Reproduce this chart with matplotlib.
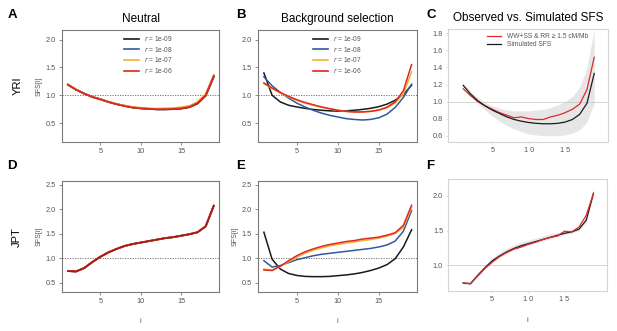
import numpy as np
import matplotlib.pyplot as plt

plt.rcParams["font.family"] = ["Liberation Sans", "DejaVu Sans"]

i = np.arange(1, 20)

# -----------------------------
# Data
# -----------------------------
r_labels = ["1e-09", "1e-08", "1e-07", "1e-06"]
r_colors = ["#1a1a1a", "#2f5a9e", "#f5b335", "#e0281e"]

# A: YRI neutral
yri_neu_1e9 = [1.19, 1.10, 1.03, 0.97, 0.93, 0.88, 0.84, 0.81, 0.78, 0.765, 0.755, 0.745, 0.745, 0.75, 0.76, 0.785, 0.85, 0.99, 1.33]
yri_neu_1e8 = [1.19, 1.10, 1.03, 0.97, 0.93, 0.88, 0.84, 0.81, 0.78, 0.765, 0.755, 0.75, 0.75, 0.755, 0.765, 0.79, 0.86, 1.00, 1.34]
yri_neu_1e7 = [1.19, 1.10, 1.03, 0.97, 0.93, 0.885, 0.845, 0.815, 0.79, 0.775, 0.765, 0.76, 0.765, 0.77, 0.785, 0.81, 0.88, 1.02, 1.36]
yri_neu_1e6 = [1.19, 1.10, 1.03, 0.97, 0.925, 0.88, 0.84, 0.805, 0.78, 0.765, 0.755, 0.75, 0.75, 0.755, 0.765, 0.79, 0.86, 1.00, 1.35]

# B: YRI background selection
yri_bgs_1e9 = [1.40, 1.00, 0.88, 0.82, 0.79, 0.765, 0.745, 0.73, 0.72, 0.715, 0.72, 0.73, 0.745, 0.765, 0.795, 0.84, 0.91, 1.01, 1.18]
yri_bgs_1e8 = [1.33, 1.17, 1.05, 0.95, 0.86, 0.79, 0.73, 0.68, 0.64, 0.61, 0.58, 0.565, 0.555, 0.565, 0.595, 0.66, 0.78, 0.96, 1.20]
yri_bgs_1e7 = [1.21, 1.12, 1.04, 0.97, 0.91, 0.86, 0.82, 0.785, 0.755, 0.73, 0.71, 0.70, 0.70, 0.71, 0.73, 0.77, 0.86, 1.02, 1.42]
yri_bgs_1e6 = [1.22, 1.13, 1.05, 0.98, 0.92, 0.87, 0.83, 0.79, 0.76, 0.73, 0.71, 0.70, 0.70, 0.71, 0.735, 0.785, 0.88, 1.08, 1.55]

# C: YRI observed vs simulated
yri_obs = [1.15, 1.07, 1.00, 0.95, 0.91, 0.87, 0.84, 0.81, 0.82, 0.80, 0.79, 0.79, 0.82, 0.84, 0.87, 0.91, 0.97, 1.14, 1.52]
yri_sim = [1.19, 1.09, 1.01, 0.95, 0.90, 0.86, 0.82, 0.79, 0.77, 0.755, 0.745, 0.74, 0.74, 0.745, 0.76, 0.79, 0.85, 0.98, 1.33]
yri_sim_lo = [1.17, 1.07, 0.98, 0.90, 0.83, 0.77, 0.72, 0.68, 0.65, 0.62, 0.61, 0.60, 0.60, 0.60, 0.61, 0.63, 0.67, 0.76, 0.98]
yri_sim_hi = [1.21, 1.12, 1.05, 0.99, 0.95, 0.92, 0.90, 0.89, 0.89, 0.89, 0.90, 0.91, 0.93, 0.96, 1.00, 1.06, 1.17, 1.40, 1.85]

# D: JPT neutral
jpt_neu = [0.74, 0.73, 0.80, 0.92, 1.03, 1.12, 1.19, 1.25, 1.29, 1.32, 1.35, 1.38, 1.41, 1.43, 1.46, 1.49, 1.53, 1.65, 2.07]

# E: JPT background selection
jpt_bgs_1e9 = [1.53, 0.98, 0.78, 0.69, 0.65, 0.63, 0.625, 0.625, 0.63, 0.645, 0.66, 0.68, 0.71, 0.75, 0.80, 0.87, 0.99, 1.23, 1.58]
jpt_bgs_1e8 = [0.95, 0.82, 0.85, 0.91, 0.97, 1.01, 1.05, 1.08, 1.10, 1.12, 1.14, 1.16, 1.18, 1.20, 1.23, 1.27, 1.35, 1.55, 1.97]
jpt_bgs_1e7 = [0.78, 0.76, 0.83, 0.93, 1.02, 1.10, 1.16, 1.21, 1.25, 1.28, 1.31, 1.33, 1.36, 1.38, 1.41, 1.45, 1.50, 1.63, 2.03]
jpt_bgs_1e6 = [0.76, 0.75, 0.84, 0.95, 1.05, 1.13, 1.19, 1.24, 1.28, 1.31, 1.34, 1.36, 1.39, 1.41, 1.43, 1.47, 1.52, 1.67, 2.08]

# F: JPT observed vs simulated
jpt_obs = [0.74, 0.73, 0.84, 0.95, 1.04, 1.12, 1.18, 1.23, 1.26, 1.30, 1.33, 1.37, 1.40, 1.42, 1.49, 1.48, 1.55, 1.72, 2.04]
jpt_sim = [0.74, 0.73, 0.85, 0.96, 1.06, 1.13, 1.19, 1.24, 1.28, 1.31, 1.34, 1.37, 1.40, 1.43, 1.46, 1.48, 1.52, 1.65, 2.04]
jpt_sim_lo = [0.72, 0.71, 0.83, 0.94, 1.04, 1.11, 1.17, 1.22, 1.26, 1.29, 1.32, 1.35, 1.38, 1.41, 1.44, 1.46, 1.50, 1.62, 2.00]
jpt_sim_hi = [0.76, 0.76, 0.88, 1.00, 1.10, 1.18, 1.24, 1.29, 1.33, 1.36, 1.39, 1.42, 1.45, 1.47, 1.49, 1.51, 1.56, 1.70, 2.12]

# -----------------------------
# Layout
# -----------------------------
fig = plt.figure(figsize=(6.17, 3.31), dpi=100)
axA = fig.add_axes([0.1005, 0.571, 0.2545, 0.338])
axB = fig.add_axes([0.418, 0.571, 0.2577, 0.338])
axC = fig.add_axes([0.726, 0.571, 0.2588, 0.341])
axD = fig.add_axes([0.1005, 0.119, 0.2545, 0.335])
axE = fig.add_axes([0.418, 0.119, 0.2577, 0.335])
axF = fig.add_axes([0.726, 0.121, 0.2575, 0.337])

grey = "#7a7a7a"
txt = "#555555"


def style_r(ax, ylim, yticks):
    for s in ax.spines.values():
        s.set_color(grey)
        s.set_linewidth(0.8)
    ax.set_xlim(0.27, 19.65)
    ax.set_ylim(*ylim)
    ax.set_xticks([5, 10, 15])
    ax.set_yticks(yticks)
    ax.set_yticklabels([f"{v:.1f}" for v in yticks])
    ax.tick_params(colors=grey, labelcolor=txt, labelsize=5.3, length=2.5, width=0.6, pad=1.8)
    ax.axhline(1.0, color="#666666", lw=0.6, ls=(0, (1.5, 1.5)), zorder=1)


def style_gg(ax, ylim, yticks):
    for s in ax.spines.values():
        s.set_color("#d4d4d4")
        s.set_linewidth(0.8)
    ax.set_xlim(-1.1, 20.84)
    ax.set_ylim(*ylim)
    ax.set_xticks([5, 10, 15])
    ax.set_xticklabels(["5", "1 0", "1 5"])
    ax.set_yticks(yticks)
    ax.set_yticklabels([f"{v:.1f}" for v in yticks])
    ax.tick_params(colors="#d4d4d4", labelcolor=txt, labelsize=5.3, length=1.5, width=0.5, pad=2)
    ax.axhline(1.0, color="#cccccc", lw=0.6, zorder=1)


# A
style_r(axA, (0.16, 2.17), [0.5, 1.0, 1.5, 2.0])
for y, c in zip([yri_neu_1e9, yri_neu_1e8, yri_neu_1e7, yri_neu_1e6], r_colors):
    axA.plot(i, y, color=c, lw=1.3)
axA.set_ylabel("SFS[i]", fontsize=5, color=txt, labelpad=2)
leg_handles = [plt.Line2D([], [], color=c, lw=1.2) for c in r_colors]
axA.legend(leg_handles, [f"$r$ = {r}" for r in r_labels], loc="upper center",
           frameon=False, fontsize=4.8, handlelength=2.2, labelspacing=0.25,
           borderpad=0.1, bbox_to_anchor=(0.55, 1.0), labelcolor=txt)
axA.set_title("Neutral", fontsize=8.5, pad=6)

# B
style_r(axB, (0.16, 2.17), [0.5, 1.0, 1.5, 2.0])
for y, c in zip([yri_bgs_1e9, yri_bgs_1e8, yri_bgs_1e7, yri_bgs_1e6], r_colors):
    axB.plot(i, y, color=c, lw=1.1)
axB.legend(leg_handles, [f"$r$ = {r}" for r in r_labels], loc="upper center",
           frameon=False, fontsize=4.8, handlelength=2.2, labelspacing=0.25,
           borderpad=0.1, bbox_to_anchor=(0.5, 1.0), labelcolor=txt)
axB.set_title("Background selection", fontsize=8.5, pad=6)

# C
style_gg(axC, (0.526, 1.85), [0.6, 0.8, 1.0, 1.2, 1.4, 1.6, 1.8])
axC.fill_between(i, yri_sim_lo, yri_sim_hi, color="#e6e6e6", lw=0, zorder=0)
axC.plot(i, yri_obs, color="#e0282e", lw=0.9, label="WW+SS & RR ≥ 1.5 cM/Mb")
axC.plot(i, yri_sim, color="#1a1a1a", lw=0.9, label="Simulated SFS")
axC.legend(loc="upper center", frameon=False, fontsize=4.8, handlelength=2.2,
           labelspacing=0.2, borderpad=0.1, bbox_to_anchor=(0.56, 1.0), labelcolor=txt)
axC.set_title("Observed vs. Simulated SFS", fontsize=8.5, pad=6)

# D
style_r(axD, (0.32, 2.58), [0.5, 1.0, 1.5, 2.0, 2.5])
for c in r_colors:
    axD.plot(i, jpt_neu, color=c, lw=1.3)
axD.plot(i, jpt_neu, color="#a0181c", lw=1.0)
axD.set_ylabel("SFS[i]", fontsize=5, color=txt, labelpad=2)
axD.set_xlabel("i", fontsize=5.5, color=txt, labelpad=10)

# E
style_r(axE, (0.32, 2.58), [0.5, 1.0, 1.5, 2.0, 2.5])
for y, c in zip([jpt_bgs_1e9, jpt_bgs_1e8, jpt_bgs_1e7, jpt_bgs_1e6], r_colors):
    axE.plot(i, y, color=c, lw=1.1)
axE.set_ylabel("SFS[i]", fontsize=5, color=txt, labelpad=2)
axE.set_xlabel("i", fontsize=5.5, color=txt, labelpad=10)

# F
style_gg(axF, (0.625, 2.24), [1.0, 1.5, 2.0])
axF.fill_between(i, jpt_sim_lo, jpt_sim_hi, color="#e6e6e6", lw=0, zorder=0)
axF.plot(i, jpt_sim, color="#1a1a1a", lw=0.9)
axF.plot(i, jpt_obs, color="#e0282e", lw=0.9)
axF.set_xlabel("i", fontsize=5.5, color=txt, labelpad=10)

# panel letters and row labels
for x, y, t in [(0.012, 0.945, "A"), (0.383, 0.945, "B"), (0.691, 0.945, "C"),
                (0.012, 0.49, "D"), (0.383, 0.49, "E"), (0.691, 0.49, "F")]:
    fig.text(x, y, t, fontsize=9.5, fontweight="bold")
fig.text(0.028, 0.74, "YRI", rotation=90, fontsize=8, ha="center", va="center")
fig.text(0.028, 0.285, "JPT", rotation=90, fontsize=8, ha="center", va="center")

fig.savefig("out.png", dpi=100)
